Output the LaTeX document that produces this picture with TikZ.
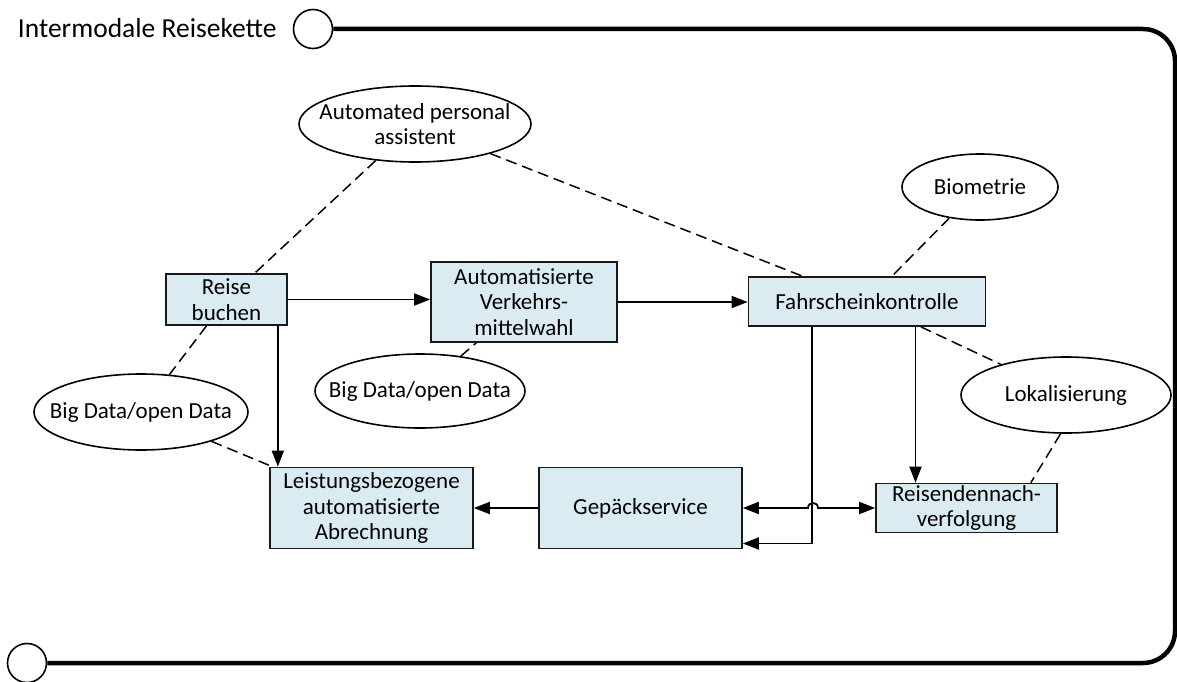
\documentclass[tikz,border=0pt]{standalone}
\usepackage{fontspec}
\setmainfont{Carlito}
\usetikzlibrary{arrows.meta,shapes.geometric}
\definecolor{boxfill}{RGB}{218,236,242}
\newcommand{\labelfont}{\fontsize{23}{25.5}\selectfont}
\newcommand{\headfont}{\fontsize{27.5}{31}\selectfont}
\tikzset{
  proc/.style={draw=black!90, line width=1.7pt, fill=boxfill, align=center,
    inner sep=0pt, font=\labelfont},
  bubble/.style={ellipse, draw=black, line width=1.6pt, align=center,
    inner xsep=-60pt, inner ysep=-20pt, font=\labelfont},
  link/.style={draw=black, line width=1.5pt, dash pattern=on 11pt off 6pt},
  flow/.style={draw=black, line width=1.8pt, -{Triangle[length=16pt,width=12pt]}},
  bothflow/.style={draw=black, line width=1.8pt,
    {Triangle[length=16pt,width=12pt]}-{Triangle[length=16pt,width=12pt]}},
  ring/.style={circle, draw=black, line width=1.6pt, minimum size=39pt, inner sep=0pt},
}
\begin{document}
\begin{tikzpicture}[x=1pt, y=-1pt]
  \useasboundingbox (0,0) rectangle (1177,682);

  % swimlane frame
  \node[anchor=base east, font=\headfont] (title) at (280,38) {Intermodale Reisekette};
  \node[ring] (start) at (313,29) {};
  \node[ring] (stop) at (27,663) {};
  \draw[line width=4.5pt, rounded corners=32pt] (start.east) -- (1175,29) -- (1175,663) -- (stop.east);

  % process steps
  \node[proc, minimum width=121pt, minimum height=51pt] (rb) at (226.5,299.5) {Reise\\buchen};
  \node[proc, minimum width=186pt, minimum height=80pt] (avw) at (524,302) {Automatisierte\\Verkehrs-\\mittelwahl};
  \node[proc, minimum width=237pt, minimum height=49pt] (fk) at (867,301.5) {Fahrscheinkontrolle};
  \node[proc, minimum width=203pt, minimum height=81pt] (lb) at (371.5,508) {Leistungsbezogene\\automatisierte\\Abrechnung};
  \node[proc, minimum width=203pt, minimum height=81pt] (gs) at (640.5,508) {Gepäckservice};
  \node[proc, minimum width=181pt, minimum height=49pt] (rn) at (966.5,508) {Reisendennach-\\verfolgung};

  % supporting technologies
  \node[bubble, minimum width=232pt, minimum height=76pt] (apa) at (415,124) {Automated personal\\assistent};
  \node[bubble, minimum width=156pt, minimum height=66pt] (bio) at (980,187) {Biometrie};
  \node[bubble, minimum width=210pt, minimum height=74pt] (bdm) at (420,391) {Big Data/open Data};
  \node[bubble, minimum width=214pt, minimum height=76pt] (bdl) at (141,412) {Big Data/open Data};
  \node[bubble, minimum width=210pt, minimum height=76pt] (lok) at (1066,395) {Lokalisierung};

  % associations
  \draw[link] (apa) -- (rb);
  \draw[link] (apa) -- (fk);
  \draw[link] (bio) -- (fk);
  \draw[link] (rb) -- (bdl);
  \draw[link] (bdl) -- (lb);
  \draw[link] (bdm) -- (avw);
  \draw[link] (fk) -- (lok);
  \draw[link] (lok.262) -- ([xshift=-27pt]rn.north east);

  % process flow
  \draw[flow] (rb.east) -- (rb.east -| avw.west);
  \draw[flow] (avw.east) -- (avw.east -| fk.west);
  \draw[flow] ([xshift=-10pt]rb.south east) -- ([xshift=-10pt]rb.south east |- lb.north);
  \draw[flow] (gs.west) -- (lb.east);
  \draw[flow] ([xshift=64pt]fk.south west) |- ([yshift=-35.5pt]gs.east);
  \draw[flow] ([xshift=48.5pt]fk.south) -- ([xshift=48.5pt]fk.south |- rn.north);
  \draw[bothflow] (gs.east) -- (808,508) .. controls (808,501.3) and (818,501.3) .. (818,508) -- (rn.west);
\end{tikzpicture}
\end{document}
